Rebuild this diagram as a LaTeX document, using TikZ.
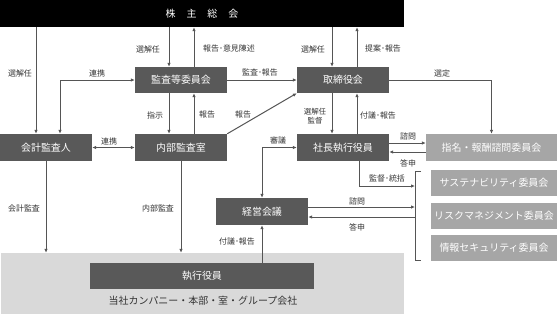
\documentclass[tikz,border=0pt]{standalone}
\usepackage{fontspec}
\setmainfont{Noto Sans CJK JP}
\usetikzlibrary{arrows.meta}
\definecolor{dk}{HTML}{595959}
\definecolor{lt}{HTML}{A6A6A6}
\definecolor{bgc}{HTML}{D9D9D9}
\definecolor{ln}{HTML}{555555}
\definecolor{tx}{HTML}{333333}
\begin{document}
\begin{tikzpicture}[x=1bp,y=-1bp,
  dbox/.style={fill=dk, text=white, inner sep=0, font=\fontsize{10}{12}\selectfont},
  lbox/.style={fill=lt, text=white, inner sep=0, font=\fontsize{10}{12}\selectfont},
  lbl/.style={text=tx, inner sep=0, font=\fontsize{8}{9}\selectfont, align=center},
  arr/.style={draw=ln, line width=1bp, -{Latex[length=4bp,width=3.5bp]}},
  darr/.style={draw=ln, line width=1bp, {Latex[length=4bp,width=3.5bp]}-{Latex[length=4bp,width=3.5bp]}}
]
\useasboundingbox (0,0) rectangle (560,315);

% background group area
\node[fill=bgc, inner sep=0, minimum width=403bp, minimum height=61bp] (grp) at (202.5,283.5) {};
\node[text=tx, inner sep=0, font=\fontsize{10}{12}\selectfont] (grptxt) at (203,301) {当社カンパニー・本部・室・グループ会社};

% nodes
\node[fill=black, text=white, inner sep=0, minimum width=404bp, minimum height=27bp, font=\fontsize{10}{12}\selectfont] (gm) at (202,13.5) {株\hspace{1.1em}主\hspace{1.1em}総\hspace{1.1em}会};
\node[dbox, minimum width=92bp, minimum height=26bp] (kansa) at (181,80) {監査等委員会};
\node[dbox, minimum width=92bp, minimum height=26bp] (tori) at (343,80) {取締役会};
\node[dbox, minimum width=92bp, minimum height=27bp] (kaikei) at (46,147.5) {会計監査人};
\node[dbox, minimum width=92bp, minimum height=27bp] (naibu) at (181,147.5) {内部監査室};
\node[dbox, minimum width=92bp, minimum height=27bp] (shacho) at (343,147.5) {社長執行役員};
\node[lbox, minimum width=131bp, minimum height=27bp] (shimei) at (491.5,147.5) {指名・報酬諮問委員会};
\node[lbox, minimum width=126bp, minimum height=26bp] (sus) at (494,183) {サステナビリティ委員会};
\node[lbox, minimum width=126bp, minimum height=26bp] (risk) at (494,215.5) {リスクマネジメント委員会};
\node[lbox, minimum width=126bp, minimum height=26bp] (info) at (494,248) {情報セキュリティ委員会};
\node[dbox, minimum width=92bp, minimum height=27bp] (keiei) at (262,211.5) {経営会議};
\node[dbox, minimum width=224bp, minimum height=26bp] (shikko) at (202,276) {執行役員};

% helper coordinates
\coordinate (xa) at (36,0);
\coordinate (xb) at (60,0);
\coordinate (xc) at (169,0);
\coordinate (xd) at (194,0);
\coordinate (xe) at (332,0);
\coordinate (xf) at (357,0);
\coordinate (xk) at (359,0);
\coordinate (yA) at (0,143);
\coordinate (yB) at (0,152);
\coordinate (yC) at (0,186);
\coordinate (yD) at (0,207);
\coordinate (yE) at (0,217);
\coordinate (bt) at (415,171);
\coordinate (bb) at (415,260);

% bracket
\draw[draw=ln, line width=1bp] ([xshift=6bp]bt) -- (bt) -- (bb) -- ([xshift=6bp]bb);

% connectors
\draw[arr] (gm.south -| xa) -- (kaikei.north -| xa);
\draw[darr] (kaikei.north -| xb) |- (kansa.west);
\draw[arr] (gm.south -| xc) -- (kansa.north -| xc);
\draw[arr] (kansa.north -| xd) -- (gm.south -| xd);
\draw[arr] (kansa.east) -- (tori.west);
\draw[arr] (gm.south -| xe) -- (tori.north -| xe);
\draw[arr] (tori.north -| xf) -- (gm.south -| xf);
\draw[arr] (tori.east) -| (shimei.north);
\draw[arr] (kansa.south -| xc) -- (naibu.north -| xc);
\draw[arr] (naibu.north -| xd) -- (kansa.south -| xd);
\draw[arr] (naibu.north east) -- (tori.south west);
\draw[darr] (kaikei.east) -- (naibu.west);
\draw[arr] (tori.south -| xe) -- (shacho.north -| xe);
\draw[arr] (shacho.north -| xf) -- (tori.south -| xf);
\draw[darr] (shacho.west) -| (keiei.north);
\draw[arr] (shacho.east |- yA) -- (shimei.west |- yA);
\draw[arr] (shimei.west |- yB) -- (shacho.east |- yB);
\draw[arr] (shacho.south -| xk) |- (bt |- yC);
\draw[arr] (keiei.east |- yD) -- (bt |- yD);
\draw[arr] (bt |- yE) -- (keiei.east |- yE);
\draw[arr] (kaikei.south) -- (grp.north -| kaikei.south);
\draw[arr] (naibu.south) -- (grp.north -| naibu.south);
\draw[arr] (shikko.north -| keiei.south) -- (keiei.south);

% labels
\node[lbl] (l1) at (20,73) {選解任};
\node[lbl] (l2) at (97,73) {連携};
\node[lbl] (l3) at (148,49) {選解任};
\node[lbl] (l4) at (229,49) {報告･意見陳述};
\node[lbl] (l5) at (260,73) {監査･報告};
\node[lbl] (l6) at (313,49) {選解任};
\node[lbl] (l7) at (383,49) {提案･報告};
\node[lbl] (l8) at (442,73) {選定};
\node[lbl] (l9) at (155,115) {指示};
\node[lbl] (l10) at (207,115) {報告};
\node[lbl] (l11) at (243,115) {報告};
\node[lbl] (l12) at (109,141) {連携};
\node[lbl, font=\fontsize{7.5}{8.5}\selectfont] (l13) at (315,116) {選解任\\監督};
\node[lbl] (l14) at (378,115) {付議･報告};
\node[lbl] (l15) at (278,140) {審議};
\node[lbl] (l16) at (408,136) {諮問};
\node[lbl] (l17) at (408,163) {答申};
\node[lbl] (l18) at (387,178) {監督･統括};
\node[lbl] (l19) at (357,201) {諮問};
\node[lbl] (l20) at (357,227) {答申};
\node[lbl] (l21) at (24,208) {会計監査};
\node[lbl] (l22) at (158,208) {内部監査};
\node[lbl] (l23) at (237,241) {付議･報告};
\end{tikzpicture}
\end{document}
